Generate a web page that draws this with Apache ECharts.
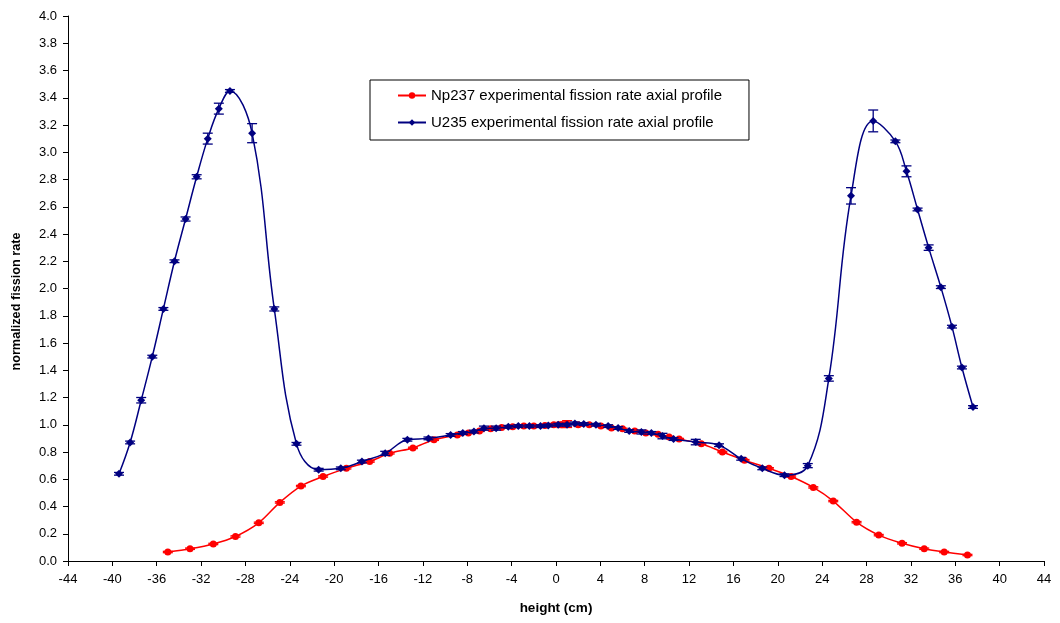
<!DOCTYPE html>
<html>
<head>
<meta charset="utf-8">
<script src="https://cdn.jsdelivr.net/npm/echarts@6/dist/echarts.min.js"></script>
<style>
html,body{margin:0;padding:0;background:#fff;}
#chart{width:1060px;height:623px;}
</style>
</head>
<body>
<div id="chart"></div>
<script>
// ---- data ----
const xTicks = { min: -44, max: 44, interval: 4 };
const yTicks = { min: 0, max: 4, interval: 0.2 };

const npName = 'Np237 experimental fission rate axial profile';
const uName = 'U235 experimental fission rate axial profile';

const npX = [-35.0,-33.0,-30.9,-28.9,-26.8,-24.9,-23.0,-21.0,-18.9,-16.8,-15.0,-12.9,-11.0,-8.9,-7.9,-6.9,-5.9,-4.9,-3.9,-2.9,-2.0,-1.0,-0.2,0.5,1.0,2.0,3.0,4.05,5.0,6.0,7.1,8.1,9.2,10.2,11.1,13.1,15.0,17.0,19.2,21.2,23.2,25.0,27.1,29.1,31.2,33.2,35.0,37.1];
const npY = [0.066,0.09,0.125,0.18,0.28,0.43,0.55,0.62,0.68,0.73,0.79,0.83,0.89,0.925,0.94,0.955,0.97,0.98,0.985,0.99,0.99,0.995,1.0,1.0,1.005,1.0,1.0,0.99,0.976,0.97,0.954,0.94,0.93,0.91,0.895,0.86,0.80,0.74,0.68,0.62,0.54,0.44,0.285,0.19,0.13,0.09,0.066,0.044];
const npErr = [0.005,0.005,0.005,0.005,0.005,0.005,0.005,0.005,0.005,0.005,0.005,0.005,0.005,0.005,0.005,0.005,0.005,0.005,0.005,0.005,0.005,0.005,0.01,0.02,0.025,0.01,0.005,0.005,0.005,0.005,0.005,0.005,0.005,0.005,0.005,0.005,0.005,0.005,0.005,0.005,0.005,0.005,0.005,0.005,0.005,0.005,0.005,0.005];

const uX = [-39.4,-38.4,-37.4,-36.4,-35.4,-34.4,-33.4,-32.4,-31.4,-30.4,-29.4,-27.4,-25.4,-23.4,-21.4,-19.4,-17.5,-15.4,-13.4,-11.5,-9.5,-8.4,-7.4,-6.5,-5.4,-4.3,-3.4,-2.4,-1.4,-0.7,0.2,1.0,1.7,2.5,3.6,4.7,5.6,6.6,7.7,8.6,9.6,10.6,12.6,14.7,16.7,18.6,20.6,22.7,24.6,26.6,28.6,30.6,31.6,32.6,33.6,34.7,35.7,36.6,37.6];
const uY = [0.64,0.87,1.18,1.50,1.85,2.20,2.51,2.82,3.10,3.32,3.45,3.14,1.85,0.86,0.67,0.68,0.73,0.79,0.89,0.90,0.925,0.94,0.95,0.975,0.975,0.985,0.99,0.99,0.99,0.995,1.0,1.0,1.01,1.005,1.0,0.99,0.976,0.954,0.947,0.94,0.917,0.895,0.873,0.85,0.75,0.68,0.63,0.70,1.34,2.68,3.23,3.08,2.86,2.58,2.30,2.01,1.72,1.42,1.13];
const uErr = [0.01,0.01,0.02,0.01,0.01,0.01,0.015,0.015,0.04,0.04,0.01,0.07,0.015,0.01,0.01,0.01,0.01,0.015,0.01,0.01,0.01,0.01,0.01,0.015,0.015,0.01,0.01,0.01,0.01,0.01,0.01,0.01,0.01,0.01,0.01,0.01,0.01,0.01,0.015,0.01,0.02,0.01,0.02,0.01,0.01,0.01,0.01,0.015,0.02,0.06,0.08,0.01,0.04,0.01,0.02,0.01,0.01,0.01,0.01];

const RED = '#ff0000';
const BLUE = '#000080';
const FONT = '"Liberation Sans", Arial, sans-serif';

function pts(xs, ys) { return xs.map((x, i) => [x, ys[i]]); }
function errs(xs, ys, es) { return xs.map((x, i) => [x, ys[i] - es[i], ys[i] + es[i]]); }

function errRender(color) {
  return function (params, api) {
    const x = api.value(0);
    const lo = api.coord([x, api.value(1)]);
    const hi = api.coord([x, api.value(2)]);
    const hw = 5;
    const st = { stroke: color, lineWidth: 1.3 };
    return {
      type: 'group',
      children: [
        { type: 'line', shape: { x1: lo[0], y1: lo[1], x2: hi[0], y2: hi[1] }, style: st },
        { type: 'line', shape: { x1: lo[0] - hw, y1: lo[1], x2: lo[0] + hw, y2: lo[1] }, style: st },
        { type: 'line', shape: { x1: hi[0] - hw, y1: hi[1], x2: hi[0] + hw, y2: hi[1] }, style: st }
      ]
    };
  };
}

const chart = echarts.init(document.getElementById('chart'), null, { renderer: 'canvas' });
chart.setOption({
  animation: false,
  backgroundColor: '#fff',
  textStyle: { fontFamily: FONT },
  grid: { left: 68, right: 16, top: 16, bottom: 62 },
  legend: {
    orient: 'vertical',
    left: 370, top: 80,
    data: [npName, uName],
    borderColor: '#000', borderWidth: 1,
    padding: [8, 27, 10, 27],
    itemGap: 12,
    itemWidth: 28, itemHeight: 8,
    textStyle: { fontFamily: FONT, fontSize: 15, color: '#000' }
  },
  xAxis: {
    type: 'value', min: xTicks.min, max: xTicks.max, interval: xTicks.interval,
    name: 'height (cm)', nameLocation: 'middle', nameGap: 40,
    nameTextStyle: { fontFamily: FONT, fontSize: 13.5, fontWeight: 'bold', color: '#000' },
    axisLine: { onZero: false, lineStyle: { color: '#000', width: 1 } },
    axisTick: { inside: false, length: 5, lineStyle: { color: '#000' } },
    axisLabel: { color: '#000', fontSize: 13, margin: 12, fontFamily: FONT },
    splitLine: { show: false }
  },
  yAxis: {
    type: 'value', min: yTicks.min, max: yTicks.max, interval: yTicks.interval,
    name: 'normalized fission rate', nameLocation: 'middle', nameGap: 45, nameRotate: 90,
    nameTextStyle: { fontFamily: FONT, fontSize: 12.7, fontWeight: 'bold', color: '#000', padding: [0, 26, 0, 0] },
    axisLine: { show: true, onZero: false, lineStyle: { color: '#000', width: 1 } },
    axisTick: { show: true, inside: false, length: 5, lineStyle: { color: '#000' } },
    axisLabel: { color: '#000', fontSize: 13, margin: 11, fontFamily: FONT, formatter: v => v.toFixed(1) },
    splitLine: { show: false }
  },
  series: [
    {
      name: npName, type: 'line', data: pts(npX, npY), smooth: 0.3,
      symbol: 'circle', symbolSize: 7,
      lineStyle: { color: RED, width: 1.5 }, itemStyle: { color: RED }, z: 2
    },
    {
      name: 'npErr', type: 'custom', data: errs(npX, npY, npErr),
      renderItem: errRender(RED), z: 2, silent: true
    },
    {
      name: uName, type: 'line', data: pts(uX, uY), smooth: 0.4,
      symbol: 'diamond', symbolSize: 8,
      lineStyle: { color: BLUE, width: 1.5 }, itemStyle: { color: BLUE }, z: 3
    },
    {
      name: 'uErr', type: 'custom', data: errs(uX, uY, uErr),
      renderItem: errRender(BLUE), z: 3, silent: true
    }
  ]
});
</script>
</body>
</html>
